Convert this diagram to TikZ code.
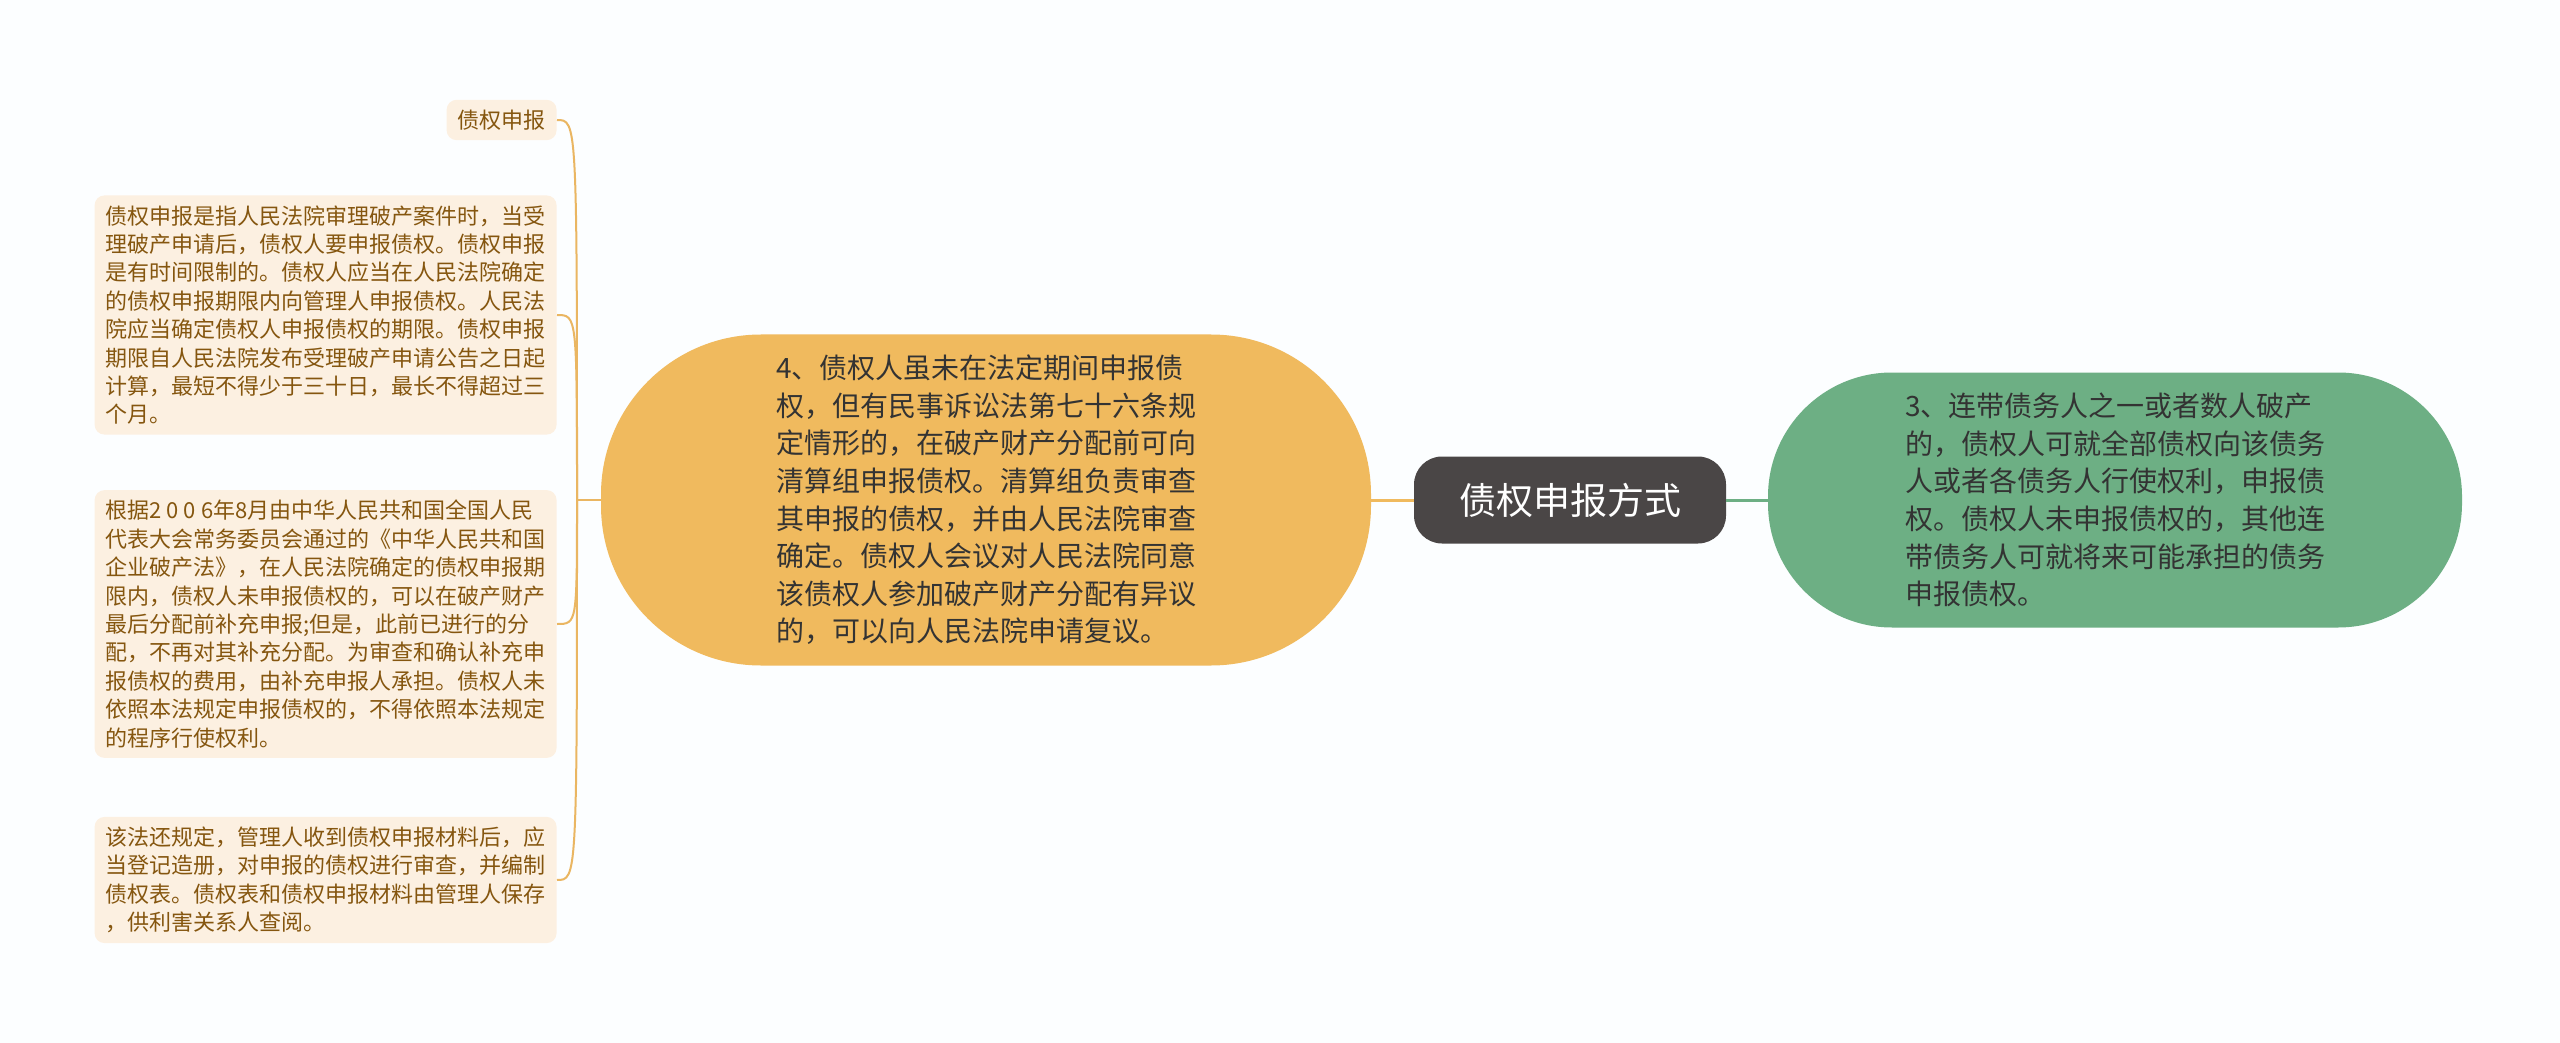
\documentclass[tikz,border=0pt]{standalone}
\usepackage{fontspec}
\setmainfont{Noto Sans CJK SC}
\definecolor{bgwhite}{HTML}{FCFEFF}
\definecolor{rootgray}{HTML}{4A4646}
\definecolor{mainorange}{HTML}{F0BA5E}
\definecolor{maingreen}{HTML}{6DAF84}
\definecolor{leaffill}{HTML}{FCF0E1}
\definecolor{leaftext}{HTML}{85560F}
\definecolor{branchorange}{HTML}{EAB662}

\begin{document}
\begin{tikzpicture}[x=0.5pt,y=-0.5pt]
    \fill[bgwhite] (0,0) rectangle (2560,1043);
    \useasboundingbox (0,0) rectangle (2560,1043);

    \tikzset{leafbox/.style={fill=leaffill,text=leaftext,rounded corners=5pt,align=left,anchor=east,
        inner xsep=5.5pt,inner ysep=5pt,font=\fontsize{11pt}{14.2pt}\selectfont}}
    \tikzset{bigbox/.style={align=left,text=black!80,font=\fontsize{14pt}{18.8pt}\selectfont}}
    \tikzset{branch/.style={draw=branchorange,line width=1pt}}

    \node[fill=rootgray,text=white,rounded corners=14pt,minimum width=156pt,minimum height=43.5pt,
        font=\fontsize{18.5pt}{22pt}\selectfont] (root) at (1570,500) {债权申报方式};

    \node[bigbox,fill=mainorange,rounded corners=80pt,minimum width=385pt,minimum height=165.5pt] (law) at (986,500)
        {4、债权人虽未在法定期间申报债\\
         权，但有民事诉讼法第七十六条规\\
         定情形的，在破产财产分配前可向\\
         清算组申报债权。清算组负责审查\\
         其申报的债权，并由人民法院审查\\
         确定。债权人会议对人民法院同意\\
         该债权人参加破产财产分配有异议\\
         的，可以向人民法院申请复议。};

    \node[bigbox,fill=maingreen,rounded corners=62pt,minimum width=347pt,minimum height=127.5pt] (joint) at (2115,500)
        {3、连带债务人之一或者数人破产\\
         的，债权人可就全部债权向该债务\\
         人或者各债务人行使权利，申报债\\
         权。债权人未申报债权的，其他连\\
         带债务人可就将来可能承担的债务\\
         申报债权。};

    \node[leafbox] (leaf1) at (557,120) {债权申报};
    \node[leafbox] (leaf2) at (557,315)
        {债权申报是指人民法院审理破产案件时，当受\\
         理破产申请后，债权人要申报债权。债权申报\\
         是有时间限制的。债权人应当在人民法院确定\\
         的债权申报期限内向管理人申报债权。人民法\\
         院应当确定债权人申报债权的期限。债权申报\\
         期限自人民法院发布受理破产申请公告之日起\\
         计算，最短不得少于三十日，最长不得超过三\\
         个月。};
    \node[leafbox] (leaf3) at (557,624)
        {根据2 0 0 6年8月由中华人民共和国全国人民\\
         代表大会常务委员会通过的《中华人民共和国\\
         企业破产法》，在人民法院确定的债权申报期\\
         限内，债权人未申报债权的，可以在破产财产\\
         最后分配前补充申报;但是，此前已进行的分\\
         配，不再对其补充分配。为审查和确认补充申\\
         报债权的费用，由补充申报人承担。债权人未\\
         依照本法规定申报债权的，不得依照本法规定\\
         的程序行使权利。};
    \node[leafbox] (leaf4) at (557,880)
        {该法还规定，管理人收到债权申报材料后，应\\
         当登记造册，对申报的债权进行审查，并编制\\
         债权表。债权表和债权申报材料由管理人保存\\
         ，供利害关系人查阅。};

    \draw[draw=mainorange,line width=1.5pt] (law.east) -- (root.west);
    \draw[draw=maingreen,line width=1.5pt] (root.east) -- (joint.west);

    \coordinate (hub) at (577,500);
    \draw[branch] (law.west) -- (hub);
    \draw[branch] (hub) .. controls (hub |- leaf1.east) and (hub |- leaf1.east) .. (leaf1.east);
    \draw[branch] (hub) .. controls (hub |- leaf2.east) and (hub |- leaf2.east) .. (leaf2.east);
    \draw[branch] (hub) .. controls (hub |- leaf3.east) and (hub |- leaf3.east) .. (leaf3.east);
    \draw[branch] (hub) .. controls (hub |- leaf4.east) and (hub |- leaf4.east) .. (leaf4.east);
\end{tikzpicture}
\end{document}
